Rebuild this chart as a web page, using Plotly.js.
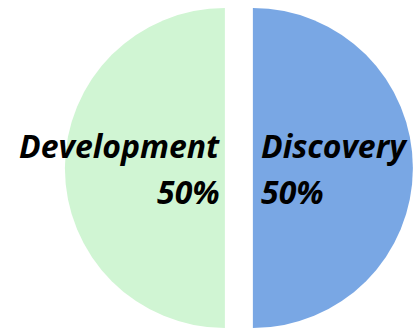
<!DOCTYPE html>
<html>
<head>
<meta charset="utf-8">
<script src="https://cdn.plot.ly/plotly-3.0.1.min.js"></script>
<style>
html,body{margin:0;padding:0;background:#fff;overflow:hidden;width:418px;height:333px;}
#chart{position:absolute;left:0;top:-6px;width:418px;height:348px;}
</style>
</head>
<body>
<div id="chart"></div>
<script>
// Data
var labels = ['Discovery', 'Development'];
var values = [50, 50];
var colors = ['#79a7e4', '#d0f5d3'];
var pulls = [0.0875, 0.0875];

var total = values.reduce(function(a, b){ return a + b; }, 0);
var pctText = values.map(function(v){ return Math.round(v / total * 100) + '%'; });

var trace = {
  type: 'pie',
  labels: labels,
  values: values,
  sort: false,
  direction: 'clockwise',
  rotation: 0,
  pull: pulls,
  textinfo: 'none',
  hoverinfo: 'label+percent',
  marker: { colors: colors, line: { color: '#ffffff', width: 0 } },
  domain: { x: [0.155, 0.988], y: [0, 1] },
  showlegend: false
};

var labelFont = { family: '"Open Sans", Lato, sans-serif', size: 32, color: '#000000', weight: 'bold', style: 'italic' };

function ann(text, x, y, anchor) {
  return {
    xref: 'paper', yref: 'paper', x: x, y: y,
    xanchor: anchor, yanchor: 'middle', align: anchor,
    text: text, showarrow: false, font: labelFont
  };
}

var layout = {
  width: 418,
  height: 348,
  margin: { l: 0, r: 0, t: 0, b: 0, pad: 0 },
  paper_bgcolor: '#ffffff',
  plot_bgcolor: '#ffffff',
  showlegend: false,
  annotations: [
    ann(labels[1], 0.531, 0.5635, 'right'),
    ann(pctText[1], 0.531, 0.433, 'right'),
    ann(labels[0], 0.6196, 0.5635, 'left'),
    ann(pctText[0], 0.6196, 0.433, 'left')
  ]
};

Plotly.newPlot('chart', [trace], layout, { displayModeBar: false, staticPlot: true });
</script>
</body>
</html>
